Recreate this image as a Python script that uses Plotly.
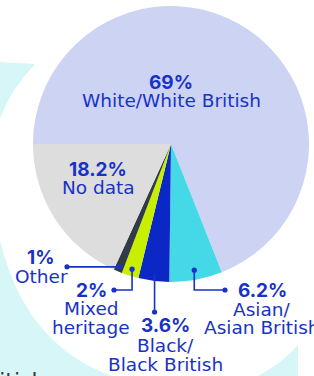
import math
import plotly.graph_objects as go

# ---- data ----
categories = ["White/White British", "Asian/Asian British", "Black/Black British",
              "Mixed heritage", "Other", "No data"]
values = [69, 6.2, 3.6, 2, 1, 18.2]
pct_labels = ["69%", "6.2%", "3.6%", "2%", "1%", "18.2%"]
name_lines = [["White/White British"], ["Asian/", "Asian British"], ["Black/", "Black British"],
              ["Mixed", "heritage"], ["Other"], ["No data"]]
colors = ["#CDD3F2", "#45D8E6", "#0B27C6", "#C8EE00", "#303B46", "#DDDDDD"]

# ---- layout geometry (pixels) ----
W, H = 314, 376
CX, CY, R = 171, 144, 138
ROT = -90  # first slice starts at 9 o'clock
BLUE = "#1832C8"
FONT_B = "Inter"
FONT_R = "DejaVu Sans"


def px(x):
    return x / W


def py(y):
    return 1 - y / H


fig = go.Figure()
fig.add_trace(go.Pie(
    labels=categories, values=values, sort=False, direction="clockwise",
    rotation=ROT, marker=dict(colors=colors, line=dict(width=0)),
    textinfo="none", hoverinfo="skip", showlegend=False,
    domain=dict(x=[px(CX - R), px(CX + R)], y=[py(CY + R), py(CY - R)]),
))

# mid angle of each slice (clockwise from 12 o'clock, degrees)
total = sum(values)
mids = []
acc = ROT
for v in values:
    a = v / total * 360
    mids.append(acc + a / 2)
    acc += a


def on_pie(i, frac):
    a = math.radians(mids[i])
    return CX + frac * R * math.sin(a), CY - frac * R * math.cos(a)


shapes = []
# background decoration (light cyan arcs)
bg = "#D7F6F8"
for path in [
    f"M {px(0)},{py(62)} L {px(35)},{py(64)} Q {px(12)},{py(88)} {px(0)},{py(118)} Z",
    f"M {px(0)},{py(240)} Q {px(25)},{py(345)} {px(112)},{py(376)} L {px(0)},{py(376)} Z",
    f"M {px(298)},{py(345)} L {px(298)},{py(376)} L {px(258)},{py(376)} Q {px(284)},{py(362)} {px(298)},{py(345)} Z",
]:
    shapes.append(dict(type="path", path=path, xref="paper", yref="paper",
                       fillcolor=bg, line=dict(width=0), layer="below"))


def line_path(points):
    d = "M " + " L ".join(f"{px(x)},{py(y)}" for x, y in points)
    shapes.append(dict(type="path", path=d, xref="paper", yref="paper",
                       line=dict(color=BLUE, width=1.6), layer="above"))


def dot(x, y, r=2.6):
    shapes.append(dict(type="circle", xref="paper", yref="paper",
                       x0=px(x - r), x1=px(x + r), y0=py(y + r), y1=py(y - r),
                       fillcolor=BLUE, line=dict(width=0), layer="above"))


# leader lines
# Other (index 4)
ox, oy = on_pie(4, 0.965)
line_path([(ox, oy), (67, oy)])
dot(ox, oy); dot(67, oy)
# Mixed (index 3)
mx, my = on_pie(3, 0.95)
line_path([(mx, my), (mx, 290), (114, 290)])
dot(mx, my); dot(114, 290)
# Black (index 2)
bx, by = on_pie(2, 0.95)
line_path([(bx, by), (bx, 312)])
dot(bx, 312)
# Asian (index 1)
ax_, ay_ = on_pie(1, 0.93)
line_path([(ax_, ay_), (ax_, 290), (225, 290)])
dot(ax_, ay_); dot(225, 290)

# label positions (pixel centers): bold pct line, then name lines
label_pos = {
    0: [(171, 82), (171, 101)],
    1: [(262, 290), (261, 309), (262, 327)],
    2: [(165, 325), (165, 345), (165, 364)],
    3: [(91, 290), (91, 308), (91, 327)],
    4: [(41, 257), (41, 276)],
    5: [(98, 169), (98, 187)],
}

annotations = []
for i in range(len(categories)):
    pos = label_pos[i]
    texts = [pct_labels[i]] + name_lines[i]
    for j, (t, (x, y)) in enumerate(zip(texts, pos)):
        annotations.append(dict(
            text=f"<b>{t}</b>" if j == 0 else t,
            x=px(x), y=py(y), xref="paper", yref="paper",
            xanchor="center", yanchor="middle", showarrow=False,
            font=dict(family=FONT_B if j == 0 else FONT_R, size=19 if j == 0 else 18.5,
                      color=BLUE),
        ))

# partial text from the page below
annotations.append(dict(text="British", x=px(47), y=py(366), xref="paper", yref="paper",
                        xanchor="right", yanchor="top", showarrow=False,
                        font=dict(family=FONT_R, size=22, color="#3A3A3A")))

fig.update_layout(
    width=W, height=H, margin=dict(l=0, r=0, t=0, b=0),
    paper_bgcolor="white", plot_bgcolor="white",
    shapes=shapes, annotations=annotations,
)

fig.write_html("out.html", config={"displayModeBar": False},
               post_script="document.body.style.margin='0px';document.body.style.overflow='hidden';")
